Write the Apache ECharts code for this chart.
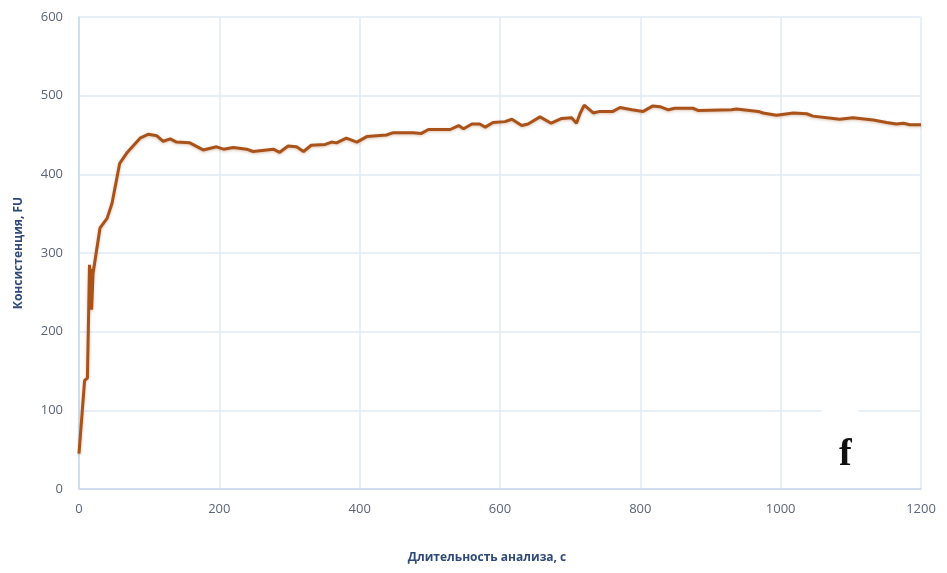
<!DOCTYPE html>
<html>
<head>
<meta charset="utf-8">
<script src="https://cdn.jsdelivr.net/npm/echarts@6/dist/echarts.min.js"></script>
<style>
  html, body { margin: 0; padding: 0; background: #ffffff; }
  #chart { width: 947px; height: 573px; }
</style>
</head>
<body>
<div id="chart"></div>
<script>
// Consistency (FU) over analysis time (s)
const timeSec = [
  0, 8, 12, 15, 16, 17, 18, 20, 30, 40, 47, 58, 68, 87, 99, 111, 120, 130, 139, 158,
  177, 196, 206, 220, 239, 248, 277, 286, 298, 310, 320, 331, 351, 360, 367, 381, 396, 410, 438, 448,
  476, 488, 498, 529, 541, 548, 560, 571, 579, 590, 607, 617, 631, 640, 657, 673, 688, 702, 709, 714,
  720, 733, 742, 761, 771, 788, 804, 818, 828, 840, 849, 875, 883, 930, 937, 968, 975, 994, 1018, 1037,
  1046, 1075, 1084, 1103, 1132, 1151, 1165, 1175, 1184, 1200
];
const consistencyFU = [
  45, 138, 141, 285, 235, 280, 228, 274, 332, 344, 363, 414, 427, 446, 451, 449, 442, 445, 441, 440,
  431, 435, 432, 434, 432, 429, 432, 428, 436, 435, 429, 437, 438, 441, 440, 446, 441, 448, 450, 453,
  453, 452, 457, 457, 462, 458, 464, 464, 460, 466, 467, 470, 462, 464, 473, 465, 471, 472, 465, 477,
  488, 478, 480, 480, 485, 482, 480, 487, 486, 482, 484, 484, 481, 482, 483, 480, 478, 475, 478, 477,
  474, 471, 470, 472, 469, 466, 464, 465, 463, 463
];
const xTitle = 'Длительность анализа, с';
const yTitle = 'Консистенция, FU';
const panelLetter = 'f';

const points = timeSec.map((t, i) => [t, consistencyFU[i]]);

const chart = echarts.init(document.getElementById('chart'), null, { renderer: 'canvas' });

const gridColor = '#e2eaf5';
const axisColor = '#c9d8ec';
const tickColor = '#5b6478';
const titleColor = '#2f4a78';

chart.setOption({
  backgroundColor: '#ffffff',
  animation: false,
  grid: { left: 79, right: 26, top: 17, bottom: 84, containLabel: false },
  xAxis: {
    type: 'value',
    min: 0, max: 1200, interval: 200,
    name: xTitle,
    nameLocation: 'middle',
    nameGap: 63,
    nameTextStyle: { color: titleColor, fontFamily: 'Open Sans', fontWeight: 'bold', fontSize: 12, padding: [0, 26, 0, 0] },
    axisLine: { show: true, lineStyle: { color: axisColor, width: 1.5 } },
    axisTick: { show: false },
    axisLabel: { color: tickColor, fontFamily: 'Open Sans', fontSize: 13, margin: 14, formatter: (v) => String(v) },
    splitLine: { show: true, lineStyle: { color: gridColor, width: 1.5 } }
  },
  yAxis: {
    type: 'value',
    min: 0, max: 600, interval: 100,
    name: yTitle,
    nameLocation: 'middle',
    nameGap: 54,
    nameRotate: 90,
    nameTextStyle: { color: titleColor, fontFamily: 'Open Sans', fontWeight: 'bold', fontSize: 12 },
    axisLine: { show: true, lineStyle: { color: axisColor, width: 1.5 } },
    axisTick: { show: false },
    axisLabel: { color: tickColor, fontFamily: 'Open Sans', fontSize: 13, margin: 16, formatter: (v) => String(v) },
    splitLine: { show: true, lineStyle: { color: gridColor, width: 1.5 } }
  },
  series: [{
    type: 'line',
    data: points,
    showSymbol: false,
    smooth: false,
    lineStyle: {
      color: '#a9531b', width: 3,
      shadowColor: 'rgba(150,80,30,0.35)', shadowBlur: 3, shadowOffsetY: 1
    },
    z: 3
  }],
  graphic: [
    {
      type: 'rect',
      left: 822, top: 403,
      shape: { width: 36, height: 14 },
      style: { fill: '#ffffff' },
      z: 10
    },
    {
      type: 'text',
      left: 839, top: 436,
      style: {
        text: panelLetter,
        fill: '#111111',
        font: 'bold 38px "Liberation Serif", "DejaVu Serif", serif'
      },
      z: 11
    }
  ]
});
</script>
</body>
</html>
